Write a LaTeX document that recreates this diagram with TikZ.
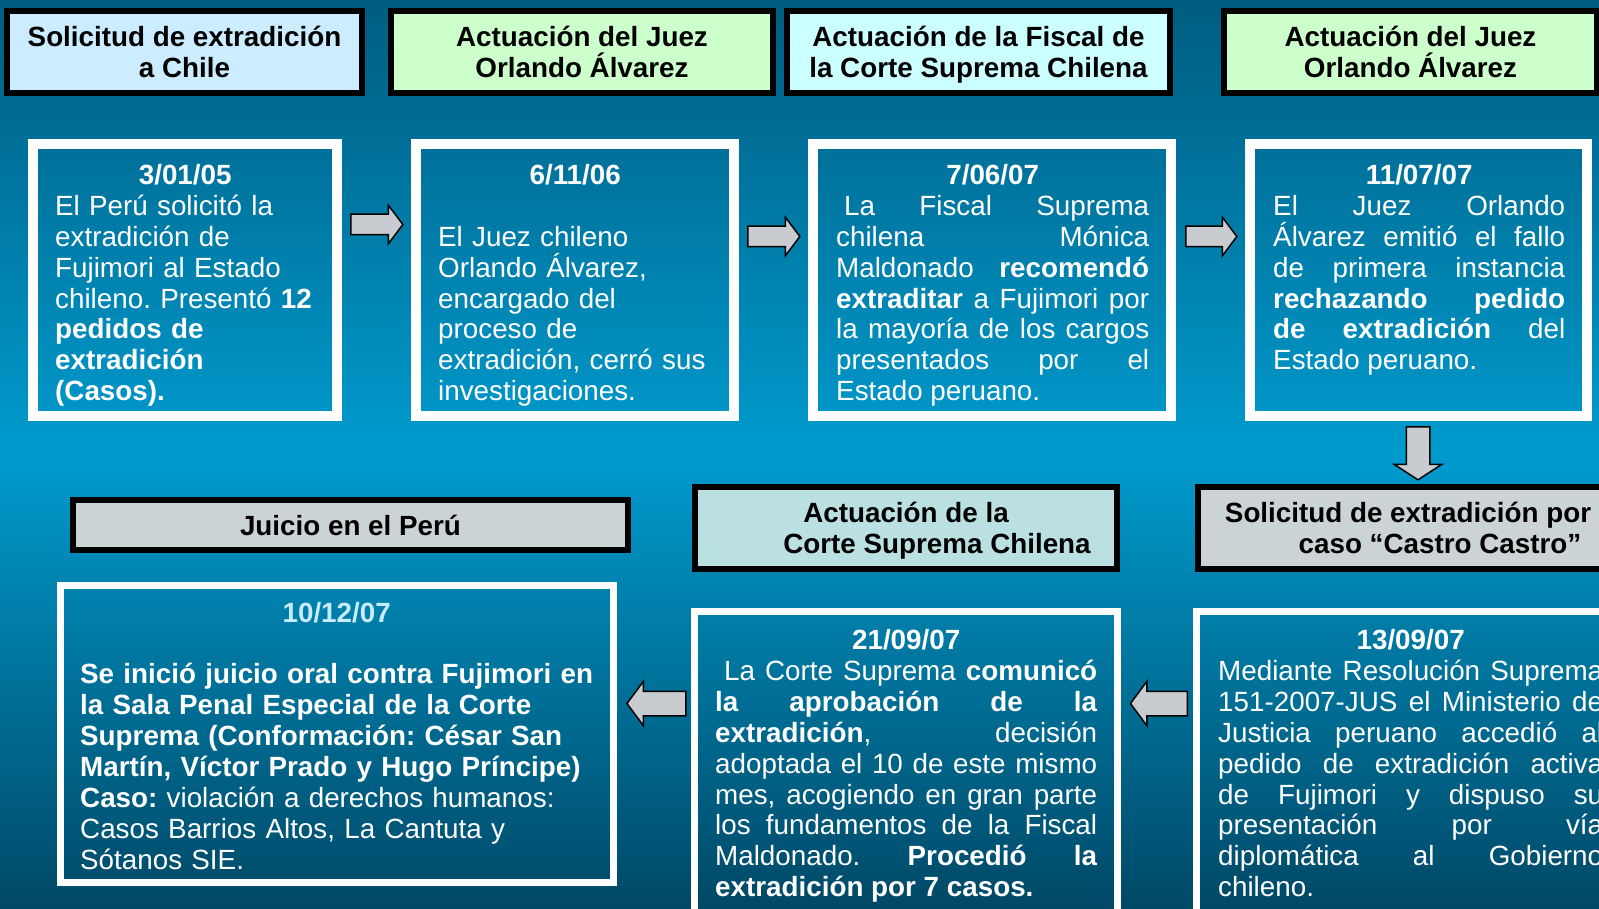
\documentclass[tikz,border=0pt]{standalone}
\usepackage{fontspec}
\setmainfont{Liberation Sans}
\usepackage{tikz}
\usetikzlibrary{positioning, shapes.arrows}
\definecolor{bgtop}{RGB}{0,92,128}
\definecolor{bgmid}{RGB}{0,155,206}
\definecolor{bgbot}{RGB}{0,72,102}
\definecolor{hdrblue}{RGB}{204,236,255}
\definecolor{hdrgreen}{RGB}{204,255,204}
\definecolor{hdrcyan}{RGB}{204,255,255}
\definecolor{hdrgray}{RGB}{204,211,214}
\definecolor{hdrteal}{RGB}{186,224,226}
\definecolor{arrowgray}{RGB}{200,204,208}
\definecolor{datelight}{RGB}{200,236,255}
\newcommand{\fecha}[2][white]{\makebox[\hsize]{\color{#1}\bfseries #2}}
\hbadness=10000
\frenchspacing

\begin{document}
\begin{tikzpicture}[x=1pt, y=-1pt,
    hdr/.style={draw=black, line width=6pt, inner sep=0pt, align=center, text=black, text depth=0pt, font=\fontsize{27.8}{30.9}\selectfont\bfseries},
    card/.style={draw=white, line width=10pt, inner sep=0pt},
    txt/.style={text=white, inner sep=0pt, anchor=base west, font=\fontsize{27.8}{30.9}\selectfont\setlength{\parindent}{0pt}},
    flecha/.style={single arrow, draw=black, line width=1.5pt, fill=arrowgray, inner xsep=0pt, inner ysep=9.5pt, minimum width=37pt, single arrow head extend=9pt, single arrow tip angle=106}]
\useasboundingbox (0,0) rectangle (1599,909);
\clip (0,0) rectangle (1599,909);
\shade[top color=bgtop, bottom color=bgbot, middle color=bgmid] (0,0) rectangle (1599,909);

\node[hdr, fill=hdrblue, minimum width=355pt, minimum height=82pt] (h1) at (184.5,52) {Solicitud de extradición\\a Chile};
\node[hdr, fill=hdrgreen, minimum width=382pt, minimum height=82pt, right=23pt of h1] (h2) {Actuación del Juez\\Orlando Álvarez};
\node[hdr, fill=hdrcyan, minimum width=383pt, minimum height=82pt, right=8pt of h2] (h3) {Actuación de la Fiscal de\\la Corte Suprema Chilena};
\node[hdr, fill=hdrgreen, minimum width=373pt, minimum height=82pt, right=48pt of h3] (h4) {Actuación del Juez\\Orlando Álvarez};

\node[card, minimum width=304pt, minimum height=272pt] (b1) at (185,280) {};
\node[card, minimum width=318pt, minimum height=272pt, right=69pt of b1] (b2) {};
\node[card, minimum width=358pt, minimum height=272pt, right=69pt of b2] (b3) {};
\node[card, minimum width=337pt, minimum height=272pt, right=69pt of b3] (b4) {};

\node[txt, text width=260pt, align=left] (t1) at (55,184.5) {\fecha{3/01/05}\\El Perú solicitó la\\extradición de\\Fujimori al Estado\\chileno. Presentó \textbf{12}\\\textbf{pedidos de}\\\textbf{extradición}\\\textbf{(Casos).}};
\node[txt, text width=274pt, align=left] (t2) at (438,184.5) {\fecha{6/11/06}\\[30.9pt]El Juez chileno\\Orlando Álvarez,\\encargado del\\proceso de\\extradición, cerró sus\\investigaciones.};
\node[txt, text width=313pt, align=justify] (t3) at (836,184.5) {\fecha{7/06/07}\\\hspace*{8pt}La Fiscal Suprema\linebreak
  chilena Mónica\linebreak
  Maldonado \textbf{recomendó}\linebreak
  \textbf{extraditar} a Fujimori por\linebreak
  la mayoría de los cargos\linebreak
  presentados por el\linebreak
  Estado peruano.};
\node[txt, text width=292pt, align=justify] (t4) at (1273,184.5) {\fecha{11/07/07}\\El Juez Orlando\linebreak
  Álvarez emitió el fallo\linebreak
  de primera instancia\linebreak
  \textbf{rechazando pedido}\linebreak
  \textbf{de extradición} del\linebreak
  Estado peruano.};

\node[flecha, minimum height=52pt] (a1) at (373,224.5) {};
\node[flecha, minimum height=52pt] (a2) at (770,236.5) {};
\node[flecha, minimum height=51pt] (a3) at (1207.5,236.5) {};
\node[flecha, minimum height=53pt, minimum width=46pt, inner ysep=11pt, single arrow head extend=12pt, single arrow tip angle=114, rotate=-90] (a4) at (1418,449.5) {};

\node[hdr, fill=hdrgray, minimum width=555pt, minimum height=50pt] (j1) at (350.5,525) {Juicio en el Perú};
\node[hdr, fill=hdrteal, minimum width=422pt, minimum height=82pt] (j2) at (906,528) {Actuación de la\\\hspace*{62pt}Corte Suprema Chilena};
\node[hdr, fill=hdrgray, minimum width=420pt, minimum height=82pt, right=75pt of j2] (j3) {Solicitud de extradición por\\\hspace*{64pt}caso “Castro Castro”};

\node[card, line width=7pt, minimum width=553pt, minimum height=297pt] (b5) at (337,734) {};
\node[card, line width=7pt, minimum width=423pt, minimum height=325pt] (b6) at (906,774) {};
\node[card, line width=7pt, minimum width=425pt, minimum height=325pt, right=72pt of b6] (b7) {};

\node[txt, text width=513pt, align=left] (t5) at (80,622) {\fecha[datelight]{10/12/07}\\[30.9pt]\textbf{Se inició juicio oral contra Fujimori en}\\\textbf{la Sala Penal Especial de la Corte}\\\textbf{Suprema (Conformación: César San}\\\textbf{Martín, Víctor Prado y Hugo Príncipe)}\\\textbf{Caso:} violación a derechos humanos:\\Casos Barrios Altos, La Cantuta y\\Sótanos SIE.};
\node[txt, text width=382pt, align=justify] (t6) at (715,649.5) {\fecha{21/09/07}\\\hspace*{9pt}La Corte Suprema \textbf{comunicó}\linebreak
  \textbf{la aprobación de la}\linebreak
  \textbf{extradición}, decisión\linebreak
  adoptada el 10 de este mismo\linebreak
  mes, acogiendo en gran parte\linebreak
  los fundamentos de la Fiscal\linebreak
  Maldonado. \textbf{Procedió la}\linebreak
  \textbf{extradición por 7 casos.}};
\node[txt, text width=385pt, align=justify] (t7) at (1218,649.5) {\fecha{13/09/07}\\Mediante Resolución Suprema\linebreak
  151-2007-JUS el Ministerio de\linebreak
  Justicia peruano accedió al\linebreak
  pedido de extradición activa\linebreak
  de Fujimori y dispuso su\linebreak
  presentación por vía\linebreak
  diplomática al Gobierno\linebreak
  chileno.};

\node[flecha, minimum height=57pt, minimum width=43pt, inner ysep=11.5pt, single arrow head extend=10pt, single arrow tip angle=107, rotate=180] (a5) at (1163.5,703.5) {};
\node[flecha, minimum height=59pt, minimum width=43pt, inner ysep=11.5pt, single arrow head extend=10pt, single arrow tip angle=107, rotate=180] (a6) at (661,703.5) {};
\end{tikzpicture}
\end{document}
